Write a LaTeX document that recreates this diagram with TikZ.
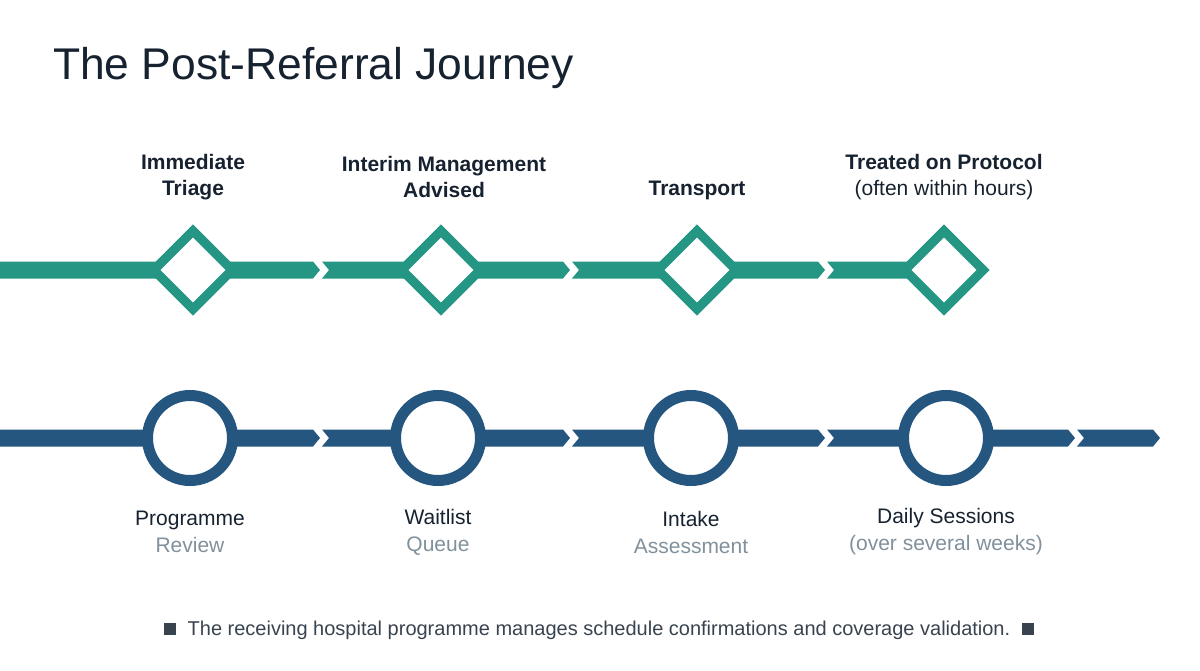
\documentclass[tikz,border=0pt]{standalone}
\usepackage{fontspec}
\setmainfont{Liberation Sans}
\usetikzlibrary{shapes.geometric,positioning}
\definecolor{teal}{RGB}{38,150,132}
\definecolor{navy}{RGB}{36,86,128}
\definecolor{ink}{RGB}{22,34,48}
\definecolor{soft}{RGB}{128,144,156}
% bar piece: left x, right x, y, notched left (1/0), pointed right (1/0), colour
\newcommand{\barpiece}[6]{%
  \fill[#6] (#1,#3-8.5) -- (#2-\ifnum#5=1 7\else0\fi,#3-8.5) -- (#2,#3)
    -- (#2-\ifnum#5=1 7\else0\fi,#3+8.5) -- (#1,#3+8.5) -- (#1+\ifnum#4=1 7\else0\fi,#3) -- cycle;}
\tikzset{
  stop/.style={diamond,draw=teal,line width=4.6pt,fill=white,minimum size=41pt,inner sep=0pt},
  halt/.style={circle,draw=navy,line width=5.5pt,fill=white,minimum size=42.5pt,inner sep=0pt},
  head/.style={font=\fontsize{10.5}{13}\selectfont\bfseries,text=ink,align=center},
  foot/.style={font=\fontsize{10.5}{13.5}\selectfont,text=ink,align=center},
}
\begin{document}
\begin{tikzpicture}[x=1pt,y=-1pt,scale=0.5]
\useasboundingbox (0,0) rectangle (1200,670);
\node[anchor=west,font=\fontsize{22.2}{25}\selectfont,text=ink] (title) at (46,68) {The Post-Referral Journey};
% top line
\barpiece{0}{320}{270}{0}{1}{teal}
\barpiece{322}{570}{270}{1}{1}{teal}
\barpiece{572}{825}{270}{1}{1}{teal}
\barpiece{827}{975}{270}{1}{0}{teal}
\node[stop] (d1) at (193,270) {};
\node[stop] (d2) at (441,270) {};
\node[stop] (d3) at (697,270) {};
\node[stop] (d4) at (944,270) {};
\node[head] (t1) at (193,177) {Immediate\\Triage};
\node[head] (t2) at (444,177) {Interim Management\\Advised};
\node[head] (t3) at (697,190) {Transport};
\node[head] (t4) at (944,177) {Treated on Protocol\\{\mdseries(often within hours)}};
% bottom line
\barpiece{0}{320}{438}{0}{1}{navy}
\barpiece{322}{570}{438}{1}{1}{navy}
\barpiece{572}{825}{438}{1}{1}{navy}
\barpiece{827}{1075}{438}{1}{1}{navy}
\barpiece{1077}{1160}{438}{1}{1}{navy}
\node[halt] (c1) at (190,438) {};
\node[halt] (c2) at (438,438) {};
\node[halt] (c3) at (691,438) {};
\node[halt] (c4) at (946,438) {};
\node[foot] (b1) at (190,532) {Programme\\\textcolor{soft}{Review}};
\node[foot] (b2) at (438,532) {Waitlist\\\textcolor{soft}{Queue}};
\node[foot] (b3) at (691,532) {Intake\\\textcolor{soft}{Assessment}};
\node[foot] (b4) at (946,532) {Daily Sessions\\\textcolor{soft}{(over several weeks)}};
\node[font=\fontsize{10}{11}\selectfont,text=ink!85] (note) at (599,630)
  {\rule{6pt}{6pt}\hspace{6pt}The receiving hospital programme manages schedule confirmations and coverage validation.\hspace{6pt}\rule{6pt}{6pt}};
\end{tikzpicture}
\end{document}
